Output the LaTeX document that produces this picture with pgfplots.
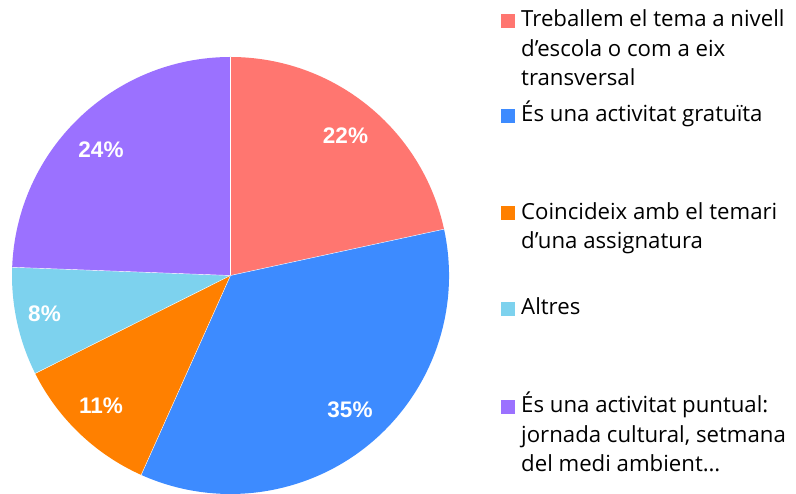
\documentclass[border=0pt]{standalone}
\usepackage{pgfplots}
\pgfplotsset{compat=1.18}
\usepackage{fontspec}
\setmainfont{Liberation Sans}
\newfontfamily\legfont{Open Sans}
\definecolor{cRed}{HTML}{FF7670}
\definecolor{cBlue}{HTML}{3D8BFF}
\definecolor{cOrange}{HTML}{FF8000}
\definecolor{cLight}{HTML}{7DD2EE}
\definecolor{cPurple}{HTML}{9B71FF}
% percentages (slices, clockwise from the top)
\def\pA{21.6}\def\pB{35.1}\def\pC{10.9}\def\pD{8.0}\def\pE{24.4}
\newcommand\pieslice[3]{%
  \fill[#3] (axis cs:230.5,218.5) -- ++({#1}:218.5pt) arc[start angle={#1},end angle={#2},radius=218.5pt] -- cycle;
  \draw[white,line width=0.4pt] (axis cs:230.5,218.5) -- ++({#1}:218.5pt);}
\newcommand\legline[2]{\node[anchor=base west,inner sep=0pt,font=\legfont\fontsize{22.2}{26}\selectfont] at (axis cs:521,{494-#1}) {#2};}
\newcommand\legbox[2]{\fill[#2] (axis cs:501,{494-#1-1}) rectangle (axis cs:515,{494-#1+13});}
\begin{document}
\begin{tikzpicture}
\path[use as bounding box] (0,0) rectangle (796pt,494pt);
\begin{axis}[x=1pt,y=1pt,xmin=0,xmax=796,ymin=0,ymax=494,hide axis,clip=false,at={(0,0)},anchor=south west]
\pieslice{90}{90-3.6*\pA}{cRed}
\pieslice{90-3.6*\pA}{90-3.6*(\pA+\pB)}{cBlue}
\pieslice{90-3.6*(\pA+\pB)}{90-3.6*(\pA+\pB+\pC)}{cOrange}
\pieslice{90-3.6*(\pA+\pB+\pC)}{90-3.6*(\pA+\pB+\pC+\pD)}{cLight}
\pieslice{90-3.6*(\pA+\pB+\pC+\pD)}{-270}{cPurple}
\draw[white,line width=0.4pt] (axis cs:230.5,218.5) -- ++(90:218.5pt);
\begin{scope}[every node/.style={text=white,font=\bfseries\fontsize{22.5}{26}\selectfont,inner sep=0pt}]
\node at (axis cs:345.5,{494-135.5}) {22\%};
\node at (axis cs:350,{494-410}) {35\%};
\node at (axis cs:101,{494-406}) {11\%};
\node at (axis cs:44.5,{494-313.5}) {8\%};
\node at (axis cs:101,{494-150}) {24\%};
\end{scope}
\legbox{27}{cRed}
\legline{27}{Treballem el tema a nivell}
\legline{56.3}{d’escola o com a eix}
\legline{85.7}{transversal}
\legbox{121.7}{cBlue}
\legline{121.7}{És una activitat gratuïta}
\legbox{219.5}{cOrange}
\legline{219.5}{Coincideix amb el temari}
\legline{249}{d’una assignatura}
\legbox{315}{cLight}
\legline{315}{Altres}
\legbox{413}{cPurple}
\legline{413}{És una activitat puntual:}
\legline{442.5}{jornada cultural, setmana}
\legline{472}{del medi ambient…}
\end{axis}
\end{tikzpicture}
\end{document}
